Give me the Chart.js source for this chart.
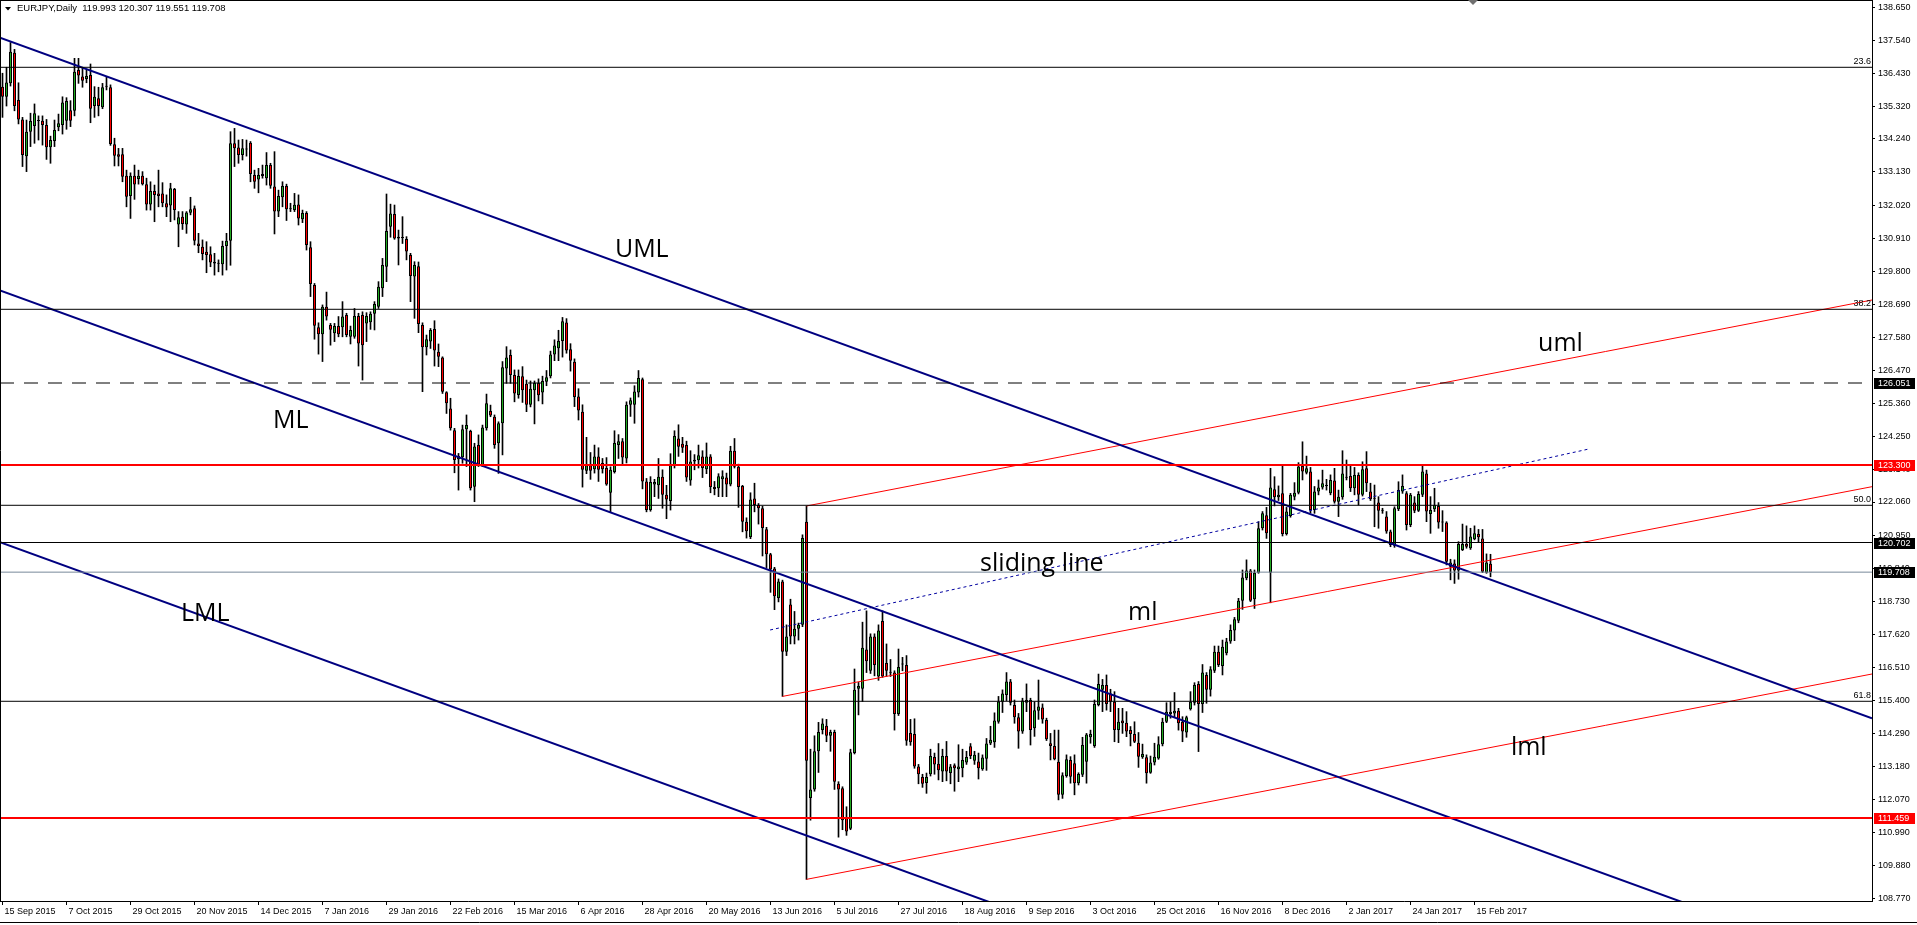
<!DOCTYPE html>
<html lang="en">
<head>
<meta charset="UTF-8">
<title>EURJPY Daily</title>
<script src="https://cdn.jsdelivr.net/npm/chart.js"></script>
<style>
    body { margin: 0; padding: 0; background: #fff; overflow: hidden; }
    .chart-wrap { position: relative; width: 1917px; height: 925px; }
</style>
</head>
<body>
<div class="chart-wrap"><canvas id="priceChart"></canvas></div>
<script>
// daily bars, index 0 = 15 Sep 2015, last = 21 Feb 2017
const opens = [
135.99,135.65,136.10,137.13,135.54,134.89,133.66,134.48,134.67,134.86,
134.85,134.70,133.96,134.17,134.63,134.70,134.85,135.20,135.18,136.55,
136.33,136.25,136.38,135.34,135.60,135.30,135.99,135.97,134.06,133.72,
133.72,133.00,132.32,133.00,132.89,133.00,132.72,132.04,132.49,132.41,
132.41,132.08,132.00,132.56,131.37,131.63,131.37,131.76,131.91,130.73,
130.62,130.45,130.37,130.12,130.05,130.03,130.65,130.82,134.09,133.95,
133.70,133.88,134.11,133.03,132.88,132.99,132.92,133.36,132.64,131.80,
132.28,132.66,131.88,131.85,132.04,131.54,131.75,130.60,129.34,127.92,
127.69,128.61,128.00,127.72,127.96,127.92,128.33,127.60,127.60,128.30,
128.33,128.05,128.09,128.37,128.61,129.23,129.95,131.29,131.72,130.96,
130.91,130.88,130.34,129.62,129.97,128.00,127.25,127.44,127.86,127.10,
126.91,125.74,125.20,124.47,123.49,123.56,124.50,124.44,122.57,123.97,
123.30,124.53,125.11,124.92,124.03,124.70,126.54,126.99,126.32,125.65,
126.28,126.03,125.32,125.81,126.05,125.73,126.09,126.28,127.01,127.22,
127.46,128.08,127.18,126.76,125.60,125.09,123.11,123.29,123.16,123.59,
123.37,123.20,122.37,123.07,123.97,124.10,123.52,125.32,125.32,125.73,
126.18,122.75,121.79,122.65,122.62,122.91,122.30,122.09,123.27,124.19,
124.01,123.97,122.78,123.48,123.46,123.59,123.16,123.59,122.56,122.52,
122.82,122.88,122.65,123.78,123.24,122.60,121.40,120.89,122.18,121.96,
121.85,121.15,120.31,119.83,118.84,119.39,117.04,118.62,117.55,117.81,
117.94,121.40,112.13,112.42,113.70,114.41,114.56,114.22,114.35,112.61,
112.46,111.46,111.10,113.64,115.80,115.80,117.11,116.40,117.55,116.21,
118.07,116.66,116.35,116.34,114.95,116.61,116.59,114.31,114.28,113.19,
112.84,112.64,112.93,113.51,113.28,113.02,113.54,112.97,113.23,113.10,
113.13,113.32,113.87,113.38,113.36,113.10,113.45,113.96,114.00,114.69,
115.36,115.59,116.04,115.25,114.84,114.36,115.33,115.42,114.47,115.06,
115.17,114.75,113.97,113.88,113.35,112.24,112.87,113.41,113.30,112.63,
112.91,113.35,114.17,113.88,115.25,115.76,115.92,115.64,115.36,114.41,
114.73,114.66,114.41,114.28,113.99,113.50,113.50,112.98,113.32,113.46,
113.94,114.69,114.95,114.97,115.06,114.69,114.33,115.11,115.33,115.96,
115.29,116.26,115.76,116.40,117.04,116.56,116.99,117.38,117.75,118.08,
118.75,119.50,119.76,118.80,119.69,121.18,121.62,119.69,122.49,122.22,
122.35,120.99,121.59,122.24,122.37,123.27,123.04,123.08,121.79,122.41,
122.55,122.60,122.35,122.78,122.07,122.22,122.88,122.93,122.52,122.97,
122.30,123.19,122.41,122.18,122.04,121.78,121.57,121.07,120.59,121.82,
122.41,122.35,121.29,122.04,121.77,122.30,123.02,121.66,121.82,121.93,
121.40,121.37,119.89,120.00,119.76,120.45,120.65,120.51,120.81,120.99,
120.84,119.69,119.993
];
const highs = [
136.44,136.64,137.47,137.24,136.12,134.96,134.87,135.10,135.41,135.01,
135.01,134.89,134.33,134.87,135.07,135.65,135.62,135.52,136.94,136.94,
136.64,136.55,136.75,135.99,135.97,136.10,136.33,136.05,134.26,133.92,
133.92,133.19,133.10,133.36,133.19,133.14,132.92,132.80,132.69,133.19,
132.77,132.36,132.75,132.58,131.80,131.80,131.80,132.28,131.99,131.07,
130.85,130.79,130.62,130.40,130.18,130.81,131.07,134.48,134.59,134.20,
134.22,134.20,134.15,133.19,133.25,133.36,133.78,133.42,133.81,132.52,
132.80,132.72,132.08,132.41,132.36,131.85,131.80,130.79,129.39,128.07,
128.67,129.10,128.05,128.05,128.28,128.78,128.39,127.96,128.55,128.39,
128.44,128.41,128.44,128.78,129.45,130.23,132.39,132.05,132.02,131.18,
131.63,130.96,130.40,130.12,130.11,128.07,127.66,127.88,128.14,127.36,
126.93,125.76,125.54,124.53,123.69,124.64,124.98,124.47,124.03,124.31,
124.64,125.68,125.31,124.98,124.75,126.77,127.27,127.16,126.49,126.49,
126.60,126.15,126.12,126.12,126.19,126.28,126.47,127.12,127.50,127.82,
128.25,128.21,127.37,126.86,125.86,125.32,124.23,123.72,123.97,123.88,
123.52,123.55,123.24,124.45,124.32,124.19,125.42,125.55,125.96,126.47,
126.22,122.85,122.91,122.82,123.52,123.14,122.62,123.68,124.45,124.65,
124.23,124.10,123.78,123.65,123.97,123.78,124.04,123.65,122.75,123.01,
123.11,123.03,123.93,124.19,123.33,122.62,121.53,122.37,122.69,122.01,
121.92,121.21,120.34,119.87,119.48,119.44,117.94,118.80,118.39,118.00,
120.96,121.92,113.77,114.22,114.67,114.79,114.77,114.41,114.41,112.68,
112.51,111.84,113.77,116.46,116.01,118.03,118.41,117.64,117.64,117.94,
118.41,117.30,116.78,116.40,117.13,116.85,116.91,114.77,114.79,113.26,
112.93,112.97,113.77,113.64,113.96,113.77,114.03,113.26,113.28,113.92,
113.77,113.70,113.96,113.70,113.64,113.58,114.13,114.54,114.99,115.54,
115.76,116.34,116.11,115.42,114.97,115.48,115.96,115.48,115.36,116.09,
115.29,114.81,114.30,114.41,114.41,112.98,113.58,113.52,113.58,112.98,
114.17,114.30,114.41,115.42,116.29,116.11,116.26,115.78,115.70,115.14,
115.14,115.03,114.53,114.69,114.33,113.94,113.58,113.54,113.97,114.19,
114.81,115.33,115.36,115.67,115.14,114.86,114.88,115.70,116.00,116.04,
116.61,116.34,116.54,117.23,117.23,117.43,117.49,117.94,118.19,118.83,
119.78,120.12,119.80,119.78,121.40,121.74,121.88,123.19,122.91,122.60,
123.30,121.88,122.35,122.71,123.38,124.08,123.60,123.22,122.58,122.80,
123.13,122.82,122.97,123.19,122.46,123.78,123.47,123.27,123.22,123.04,
123.41,123.75,122.69,122.63,122.24,121.85,121.74,121.12,121.90,122.74,
122.97,122.41,122.35,122.24,122.41,123.27,123.13,122.24,122.52,122.04,
121.77,121.40,120.14,120.12,120.73,121.32,121.26,121.18,121.26,121.14,
121.14,120.32,120.307
];
const lows = [
134.96,135.34,136.01,135.18,134.74,133.31,133.14,133.98,134.09,134.20,
134.03,133.55,133.42,133.98,134.51,134.40,134.56,134.65,135.01,136.10,
135.97,136.12,134.78,134.96,135.01,135.25,135.88,134.02,133.33,133.33,
132.80,131.96,131.57,132.21,132.72,132.69,131.85,131.85,131.46,131.96,
131.96,131.63,131.46,131.52,130.62,131.20,131.07,131.69,130.68,130.42,
130.18,129.75,129.95,129.67,129.78,129.67,129.84,130.00,133.31,133.42,
133.53,133.66,132.80,132.58,132.43,132.92,132.69,132.58,131.05,131.63,
131.96,131.50,131.80,131.80,131.35,131.43,130.51,128.95,127.52,127.02,
126.77,128.16,127.32,127.44,127.60,127.60,127.60,127.36,127.55,126.62,
126.15,127.44,127.85,127.83,128.55,128.95,129.45,130.94,130.87,130.01,
130.73,130.18,128.78,128.22,127.74,125.76,126.99,127.21,126.62,126.60,
125.70,125.03,124.47,123.04,122.46,123.36,123.25,122.46,122.07,123.25,
123.25,124.47,124.92,123.86,123.02,123.64,126.04,126.04,125.42,125.54,
125.40,125.09,125.25,124.68,125.45,125.35,125.96,126.22,126.80,126.80,
126.92,127.05,126.45,125.26,124.81,122.56,123.01,122.82,123.03,122.75,
123.03,122.62,121.73,123.03,123.52,123.33,123.37,124.93,124.70,125.58,
122.50,121.73,121.75,122.24,122.18,121.85,121.50,121.79,123.20,123.59,
123.72,122.75,122.62,123.14,123.20,122.88,123.01,122.37,122.30,122.24,
122.24,122.24,122.60,123.20,121.88,121.06,120.85,120.83,121.73,121.32,
120.25,119.86,119.03,118.45,118.71,115.54,116.91,117.30,117.30,117.43,
117.88,109.40,111.39,112.36,112.99,114.28,114.02,113.70,112.42,110.82,
111.07,110.88,111.07,113.61,114.92,115.37,116.34,116.31,116.23,116.08,
116.18,116.21,116.21,114.41,114.90,116.40,113.90,113.90,113.13,112.61,
112.49,112.29,112.87,112.93,112.74,112.68,112.71,112.61,112.36,112.68,
112.84,113.26,113.45,113.26,112.77,113.06,113.06,113.92,113.83,114.64,
115.00,115.40,115.25,114.64,113.80,114.30,115.03,113.91,114.20,114.77,
114.64,114.06,113.41,113.41,112.07,112.12,112.83,112.63,112.24,112.57,
112.85,112.63,113.97,113.83,115.22,115.03,115.08,115.03,114.02,113.99,
114.30,114.19,113.88,113.99,113.16,113.46,112.63,112.96,113.24,113.43,
113.88,114.66,114.81,114.84,114.41,114.02,114.17,115.08,115.25,113.69,
115.00,115.31,115.55,116.34,116.54,116.26,116.93,117.32,117.41,118.01,
118.46,119.45,118.72,118.49,119.67,121.12,120.84,118.68,121.93,122.11,
120.92,120.95,121.55,122.13,122.33,122.80,123.00,121.70,121.68,122.30,
122.49,122.46,122.30,122.02,121.57,122.15,122.80,122.41,122.30,121.96,
122.26,122.41,122.11,121.23,121.18,121.68,121.01,120.56,120.54,121.77,
122.35,121.12,121.23,121.70,121.74,122.24,121.40,121.01,121.74,121.18,
121.07,119.95,119.45,119.33,119.47,120.43,120.51,120.47,120.79,120.70,
119.69,119.67,119.551
];
const closes = [
135.65,136.13,137.16,135.34,134.89,133.70,134.48,134.84,135.10,134.84,
134.70,133.96,134.20,134.54,134.76,135.46,135.51,134.85,136.49,136.36,
136.19,136.35,135.25,135.65,135.34,135.97,136.00,134.07,133.67,133.64,
132.97,132.30,133.00,132.71,133.00,132.72,132.04,132.49,132.36,132.32,
132.08,131.94,132.58,131.85,131.61,131.38,131.77,131.88,130.82,130.65,
130.38,130.34,130.09,130.06,130.07,130.65,130.82,134.09,133.92,133.70,
133.92,133.89,133.06,132.80,133.03,133.06,133.36,132.67,131.80,132.32,
132.66,131.88,131.89,132.03,131.57,131.75,130.68,129.37,127.97,127.69,
128.61,128.28,127.84,127.96,127.69,128.28,127.66,127.83,128.30,127.38,
127.32,128.30,128.37,128.70,129.28,130.01,131.15,131.74,130.90,130.90,
130.92,130.46,129.64,130.01,128.03,127.25,127.52,127.83,127.14,126.93,
125.76,125.37,124.53,123.47,123.60,124.50,124.64,122.52,123.92,123.30,
124.56,125.37,124.96,123.97,124.70,126.58,126.91,126.32,125.70,126.29,
125.81,125.32,125.86,126.05,125.64,126.12,126.24,127.01,127.31,127.46,
128.12,127.14,126.80,125.58,125.13,123.14,123.29,123.11,123.59,123.14,
123.16,122.65,123.14,124.04,124.10,123.55,125.32,125.47,125.77,126.22,
122.75,121.79,122.73,122.73,122.91,122.30,122.14,123.29,124.27,123.91,
123.88,122.88,123.42,123.42,123.63,123.20,123.59,122.56,122.50,122.92,
122.92,122.65,123.78,123.24,122.56,121.40,121.08,122.14,121.96,121.85,
121.19,120.31,119.80,118.90,119.39,117.04,117.55,117.55,117.81,117.94,
120.85,113.38,112.42,113.70,114.35,114.63,114.22,114.35,112.68,112.42,
111.39,111.01,113.67,115.76,115.89,117.17,116.72,117.55,116.59,117.75,
116.21,116.40,116.33,114.95,116.53,116.62,114.05,114.00,113.19,112.93,
112.61,112.84,113.54,113.26,113.06,113.54,113.02,113.19,113.13,113.19,
113.41,113.51,113.54,113.58,113.13,113.49,113.96,114.09,114.73,115.37,
115.64,116.04,115.33,114.84,114.36,115.40,115.42,114.41,115.08,115.20,
114.77,114.10,113.88,113.43,112.24,112.90,113.43,112.85,112.63,112.94,
113.91,114.26,114.28,115.29,115.96,115.92,115.29,115.36,114.41,114.69,
114.64,114.36,114.28,114.02,113.52,113.61,112.96,113.32,113.52,113.94,
114.69,115.03,115.03,115.06,114.64,114.36,114.84,115.36,115.92,115.29,
116.34,115.76,116.45,117.04,116.59,117.21,117.38,117.77,118.13,118.75,
119.53,119.76,118.75,119.69,121.18,121.68,121.01,122.55,122.22,122.30,
120.99,121.74,122.30,122.37,123.25,123.08,123.19,121.79,122.41,122.55,
122.69,122.61,122.80,122.07,122.24,123.02,122.87,122.52,122.97,122.30,
123.16,122.69,122.15,122.17,121.77,121.77,121.07,120.62,121.85,122.46,
122.60,121.29,122.30,121.77,122.33,123.08,121.74,121.79,121.96,121.37,
121.37,120.06,120.03,119.76,120.65,120.65,120.56,120.90,121.01,120.88,
119.72,120.03,119.708
];

// date axis: a label every 16 bars
const dateTickIdx = [0, 16, 32, 48, 64, 80, 96, 112, 128, 144, 160, 176,
    192, 208, 224, 240, 256, 272, 288, 304, 320, 336, 352, 368];
const dateTickLabels = ['15 Sep 2015', '7 Oct 2015', '29 Oct 2015', '20 Nov 2015',
    '14 Dec 2015', '7 Jan 2016', '29 Jan 2016', '22 Feb 2016', '15 Mar 2016',
    '6 Apr 2016', '28 Apr 2016', '20 May 2016', '13 Jun 2016', '5 Jul 2016',
    '27 Jul 2016', '18 Aug 2016', '9 Sep 2016', '3 Oct 2016', '25 Oct 2016',
    '16 Nov 2016', '8 Dec 2016', '2 Jan 2017', '24 Jan 2017', '15 Feb 2017'];
const priceTicks = [138.650, 137.540, 136.430, 135.320, 134.240, 133.130, 132.020,
    130.910, 129.800, 128.690, 127.580, 126.470, 125.360, 124.250, 123.140,
    122.060, 120.950, 119.840, 118.730, 117.620, 116.510, 115.400, 114.290,
    113.180, 112.070, 110.990, 109.880, 108.770];

// fibo retracement levels
const fibLevels = [136.639, 128.523, 121.950, 115.377];
const fibNames = ['23.6', '38.2', '50.0', '61.8'];

// horizontal levels with price tags
const levelPrices = [126.051, 123.300, 120.702, 119.708, 111.459];

// trend lines: [startBar, startPrice, endBar, endPrice]
const umlBlue = [-0.625, 137.632, 467.375, 114.807];
const mlBlue = [-0.625, 129.157, 467.375, 106.328];
const lmlBlue = [-0.625, 120.709, 467.375, 97.880];
const umlRed = [201, 121.927, 467.375, 128.835];
const mlRed = [195, 115.541, 467.375, 122.574];
const lmlRed = [201, 109.405, 467.375, 116.292];
const slidingLine = [191.9, 117.768, 396.6, 123.838];

// visible range of the chart
const xMin = -0.625, xMax = 467.375;
const yMin = 108.679, yMax = 138.896;

// text objects: [text, bar, price]
const noteLabels = [
    ['UML', 153.1, 130.28],
    ['ML', 67.6, 124.54],
    ['LML', 44.6, 118.07],
    ['sliding line', 244.4, 119.75],
    ['ml', 281.4, 118.09],
    ['uml', 383.9, 127.14],
    ['lml', 377.1, 113.56]
];

const axisFont = { family: '"Liberation Sans", Arial, sans-serif', size: 9 };
const navy = '#000080';

function segment(pts, color, width, dash) {
    return {
        type: 'line',
        data: [{ x: pts[0], y: pts[1] }, { x: pts[2], y: pts[3] }],
        borderColor: color,
        borderWidth: width,
        borderDash: dash || [],
        pointRadius: 0,
        fill: false,
        tension: 0,
        order: 0
    };
}

function hline(price, color, width, dash) {
    return segment([xMin, price, xMax, price], color, width, dash);
}

const bars = opens.map((o, i) => i);

const datasets = [
    // wicks
    {
        type: 'bar',
        data: bars.map(i => ({ x: i, y: [lows[i], highs[i]] })),
        backgroundColor: '#000',
        barThickness: 1,
        grouped: false,
        order: 2
    },
    // bodies
    {
        type: 'bar',
        data: bars.map(i => ({ x: i, y: [opens[i], closes[i]] })),
        backgroundColor: bars.map(i => closes[i] >= opens[i] ? '#22aa22' : '#ff0000'),
        borderColor: '#000',
        borderWidth: 1,
        borderSkipped: false,
        inflateAmount: 0,
        barThickness: 3,
        minBarLength: 1,
        grouped: false,
        order: 1
    }
];

fibLevels.forEach(p => datasets.push(hline(p, '#000', 1)));
datasets.push(hline(levelPrices[0], '#000', 1, [14, 10]));
datasets.push(hline(levelPrices[1], '#ff0000', 2));
datasets.push(hline(levelPrices[2], '#000', 1));
datasets.push(hline(levelPrices[3], '#778899', 1));
datasets.push(hline(levelPrices[4], '#ff0000', 2));
datasets.push(segment(umlBlue, navy, 2));
datasets.push(segment(mlBlue, navy, 2));
datasets.push(segment(lmlBlue, navy, 2));
datasets.push(segment(umlRed, '#ff0000', 1));
datasets.push(segment(mlRed, '#ff0000', 1));
datasets.push(segment(lmlRed, '#ff0000', 1));
datasets.push(segment(slidingLine, '#0000a0', 1, [3, 3]));

// frame, header, fibo captions, price tags and text objects
const terminalChrome = {
    id: 'terminalChrome',
    afterDraw(chart) {
        const { ctx, chartArea } = chart;
        const x = chart.scales.x, y = chart.scales.y;
        ctx.save();
        ctx.strokeStyle = '#000';
        ctx.lineWidth = 1;
        ctx.beginPath();
        ctx.moveTo(0, 0.5); ctx.lineTo(chartArea.right, 0.5);
        ctx.moveTo(0.5, 0); ctx.lineTo(0.5, chartArea.bottom);
        ctx.moveTo(0, 922.5); ctx.lineTo(chart.width, 922.5);
        ctx.stroke();

        // fibo captions
        ctx.font = '9px "Liberation Sans", Arial, sans-serif';
        ctx.fillStyle = '#000';
        ctx.textAlign = 'right';
        ctx.textBaseline = 'bottom';
        fibLevels.forEach((p, k) => {
            ctx.fillText(fibNames[k], chartArea.right - 1, y.getPixelForValue(p) - 1);
        });

        // price tags on the axis
        const tagColors = ['#000', '#ff0000', '#000', '#000', '#ff0000'];
        ctx.textAlign = 'left';
        ctx.textBaseline = 'middle';
        levelPrices.forEach((p, k) => {
            const py = Math.round(y.getPixelForValue(p));
            ctx.fillStyle = tagColors[k];
            ctx.fillRect(chartArea.right + 2, py - 5, 41, 11);
            ctx.fillStyle = '#fff';
            ctx.fillText(p.toFixed(3), chartArea.right + 6, py + 0.5);
        });

        // header
        ctx.fillStyle = '#000';
        ctx.beginPath();
        ctx.moveTo(5, 7); ctx.lineTo(11, 7); ctx.lineTo(8, 10.5); ctx.closePath();
        ctx.fill();
        const last = opens.length - 1;
        const head = 'EURJPY,Daily  ' + [opens[last], highs[last], lows[last], closes[last]]
            .map(v => v.toFixed(3)).join(' ');
        ctx.font = '9.5px "Liberation Sans", Arial, sans-serif';
        ctx.fillText(head, 17, 8.5);

        // chart shift marker
        ctx.fillStyle = '#707070';
        ctx.beginPath();
        ctx.moveTo(1468, 0); ctx.lineTo(1478, 0); ctx.lineTo(1473, 5); ctx.closePath();
        ctx.fill();

        // text objects
        ctx.font = '25px "Open Sans", sans-serif';
        ctx.fillStyle = '#000';
        ctx.textBaseline = 'alphabetic';
        noteLabels.forEach(n => {
            ctx.fillText(n[0], x.getPixelForValue(n[1]), y.getPixelForValue(n[2]));
        });
        ctx.restore();
    }
};

const ctxPrice = document.getElementById('priceChart').getContext('2d');
const priceChart = new Chart(ctxPrice, {
    data: { datasets: datasets },
    options: {
        responsive: true,
        maintainAspectRatio: false,
        animation: false,
        events: [],
        layout: { padding: 0 },
        plugins: { legend: { display: false }, tooltip: { enabled: false } },
        scales: {
            x: {
                type: 'linear',
                min: xMin,
                max: xMax,
                offset: false,
                grid: { display: true, drawOnChartArea: false, drawTicks: true, tickLength: 4, color: '#000', offset: false },
                border: { display: true, color: '#000', width: 1 },
                afterBuildTicks: scale => { scale.ticks = dateTickIdx.map(v => ({ value: v })); },
                afterFit: scale => { scale.height = 24; scale.paddingLeft = 0; scale.paddingRight = 0; },
                ticks: {
                    autoSkip: false,
                    maxRotation: 0,
                    minRotation: 0,
                    align: 'start',
                    labelOffset: 2,
                    padding: 1,
                    color: '#000',
                    font: axisFont,
                    callback: (value, index) => dateTickLabels[index]
                }
            },
            y: {
                type: 'linear',
                position: 'right',
                min: yMin,
                max: yMax,
                grid: { display: true, drawOnChartArea: false, drawTicks: true, tickLength: 3, color: '#000' },
                border: { display: true, color: '#000', width: 1 },
                afterBuildTicks: scale => { scale.ticks = priceTicks.map(v => ({ value: v })); },
                afterFit: scale => { scale.width = 45; scale.paddingTop = 0; scale.paddingBottom = 0; },
                ticks: {
                    autoSkip: false,
                    padding: 3,
                    color: '#000',
                    font: axisFont,
                    callback: value => value.toFixed(3)
                }
            }
        }
    },
    plugins: [terminalChrome]
});
</script>
</body>
</html>
